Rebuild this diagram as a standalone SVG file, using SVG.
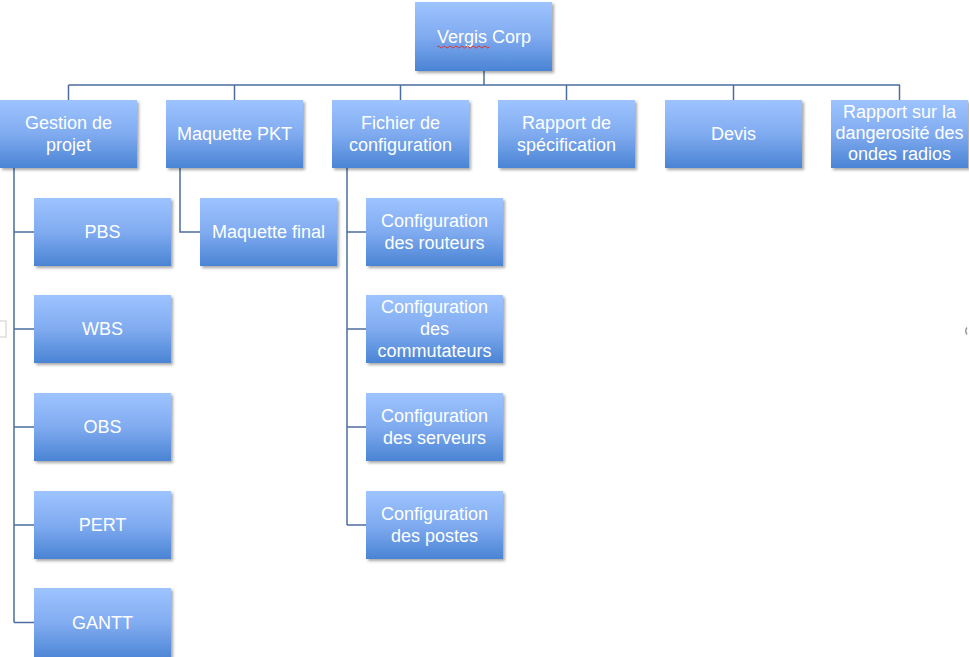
<svg xmlns="http://www.w3.org/2000/svg" width="969" height="657" viewBox="0 0 969 657">
<defs>
<linearGradient id="g" x1="0" y1="0" x2="0" y2="1">
<stop offset="0" stop-color="#9EC4FF"/>
<stop offset="0.5" stop-color="#80ABF0"/>
<stop offset="1" stop-color="#4A84D4"/>
</linearGradient>
<filter id="sh" x="-10%" y="-10%" width="125%" height="130%">
<feGaussianBlur in="SourceAlpha" stdDeviation="1.5"/>
<feOffset dx="1.5" dy="2" result="b"/>
<feComponentTransfer><feFuncA type="linear" slope="0.35"/></feComponentTransfer>
<feMerge><feMergeNode/><feMergeNode in="SourceGraphic"/></feMerge>
</filter>
<style>
.n rect{fill:url(#g);filter:url(#sh)}
.n text{font-family:"Liberation Sans",Arial,sans-serif;font-size:18px;fill:#fff;text-anchor:middle}
.c{stroke:#4C6E9E;stroke-width:1.5;fill:none}
</style>
</defs>
<rect width="969" height="657" fill="#fff"/>
<g id="connectors" class="c">
<path d="M484 71V85M68.5 85H900M68.5 85V100M234.5 85V100M400.5 85V100M566.5 85V100M733.5 85V100M899.5 85V100"/>
<path d="M14 168V622.5M14 232H34M14 329H34M14 427H34M14 525H34M14 622.5H34"/>
<path d="M180 168V232H200"/>
<path d="M347 168V525M347 232H366M347 329H366M347 427H366M347 525H366"/>
</g>
<g id="vergis" class="n"><rect x="415" y="2" width="137" height="69"/><text x="484" y="43">Vergis Corp</text>
<path d="M437 47q1.45-2 2.9 0t2.9 0t2.9 0t2.9 0t2.9 0t2.9 0t2.9 0t2.9 0t2.9 0t2.9 0t2.9 0t2.9 0t2.9 0t2.9 0t2.9 0t2.9 0t2.9 0t2.9 0" fill="none" stroke="#E0302A" stroke-width="1"/></g>
<g id="gestion" class="n"><rect x="0" y="100" width="137" height="68"/><text x="68.5" y="129">Gestion de</text><text x="68.5" y="151">projet</text></g>
<g id="maquette-pkt" class="n"><rect x="166" y="100" width="137" height="68"/><text x="234.5" y="140">Maquette PKT</text></g>
<g id="fichier" class="n"><rect x="332" y="100" width="137" height="68"/><text x="400.5" y="129">Fichier de</text><text x="400.5" y="151">configuration</text></g>
<g id="rapport-spec" class="n"><rect x="498" y="100" width="137" height="68"/><text x="566.5" y="129">Rapport de</text><text x="566.5" y="151">spécification</text></g>
<g id="devis" class="n"><rect x="665" y="100" width="137" height="68"/><text x="733.5" y="140">Devis</text></g>
<g id="rapport-ondes" class="n"><rect x="831" y="100" width="137" height="68"/><text x="899.5" y="118">Rapport sur la</text><text x="899.5" y="139">dangerosité des</text><text x="899.5" y="160">ondes radios</text></g>
<g id="pbs" class="n"><rect x="34" y="198" width="137" height="68"/><text x="102.5" y="238">PBS</text></g>
<g id="wbs" class="n"><rect x="34" y="295" width="137" height="68"/><text x="102.5" y="335">WBS</text></g>
<g id="obs" class="n"><rect x="34" y="393" width="137" height="68"/><text x="102.5" y="433">OBS</text></g>
<g id="pert" class="n"><rect x="34" y="491" width="137" height="68"/><text x="102.5" y="531">PERT</text></g>
<g id="gantt" class="n"><rect x="34" y="588" width="137" height="72"/><text x="102.5" y="629">GANTT</text></g>
<g id="maquette-final" class="n"><rect x="200" y="198" width="137" height="68"/><text x="268.5" y="238">Maquette final</text></g>
<g id="routeurs" class="n"><rect x="366" y="198" width="137" height="68"/><text x="434.5" y="227">Configuration</text><text x="434.5" y="249">des routeurs</text></g>
<g id="commutateurs" class="n"><rect x="366" y="295" width="137" height="68"/><text x="434.5" y="313">Configuration</text><text x="434.5" y="335">des</text><text x="434.5" y="357">commutateurs</text></g>
<g id="serveurs" class="n"><rect x="366" y="393" width="137" height="68"/><text x="434.5" y="422">Configuration</text><text x="434.5" y="444">des serveurs</text></g>
<g id="postes" class="n"><rect x="366" y="491" width="137" height="68"/><text x="434.5" y="520">Configuration</text><text x="434.5" y="542">des postes</text></g>
<rect x="-2" y="321" width="8" height="16" fill="none" stroke="#CCCCCC" stroke-width="1"/>
<path d="M967 327.5q-2.5 3.5 0 7" fill="none" stroke="#999" stroke-width="1.5"/>
</svg>
